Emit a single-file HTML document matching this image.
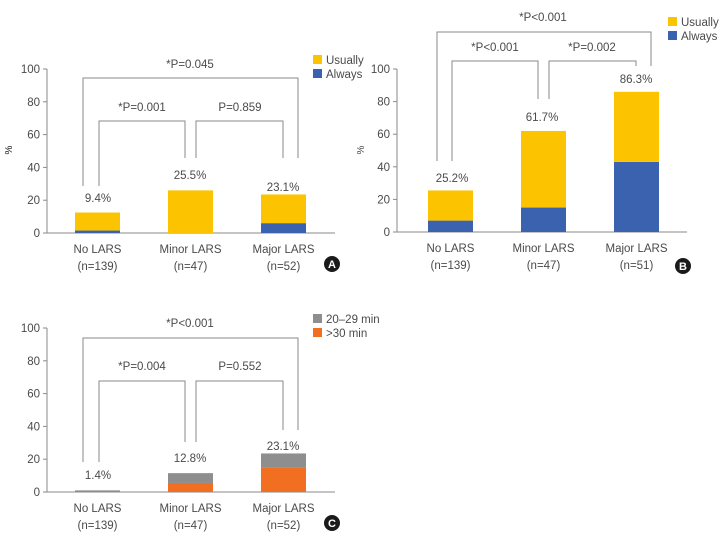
<!DOCTYPE html>
<html><head><meta charset="utf-8">
<style>
html,body{margin:0;padding:0;background:#fff;}
svg{display:block;font-family:"Liberation Sans",sans-serif;}
text{fill:#4a4a4a;font-size:11.5px;}
</style></head>
<body>
<svg id="chart" width="722" height="543" viewBox="0 0 722 543" xmlns="http://www.w3.org/2000/svg"></svg>
<script>
// Shared categories
const categories = ["No LARS", "Minor LARS", "Major LARS"];
// Panel A
const aNs = ["(n=139)", "(n=47)", "(n=52)"];
const aAlways = [1.5, 0, 6];
const aUsually = [11, 26, 17.5];
const aPct = ["9.4%", "25.5%", "23.1%"];
const aP = ["*P=0.045", "*P=0.001", "P=0.859"];
// Panel B
const bNs = ["(n=139)", "(n=47)", "(n=51)"];
const bAlways = [7, 15, 43];
const bUsually = [18.5, 47, 43];
const bPct = ["25.2%", "61.7%", "86.3%"];
const bP = ["*P<0.001", "*P<0.001", "*P=0.002"];
// Panel C
const cNs = ["(n=139)", "(n=47)", "(n=52)"];
const cOver30 = [0, 5.5, 15];
const c2029 = [1, 6, 8.5];
const cPct = ["1.4%", "12.8%", "23.1%"];
const cP = ["*P<0.001", "*P=0.004", "P=0.552"];
const yTicks = [0, 20, 40, 60, 80, 100];

const NS = "http://www.w3.org/2000/svg";
const svg = document.getElementById("chart");
function mk(tag, attrs, parent, txt) {
  const e = document.createElementNS(NS, tag);
  for (const k in attrs) e.setAttribute(k, attrs[k]);
  if (txt !== undefined) e.textContent = txt;
  (parent || svg).appendChild(e);
  return e;
}

function panel(cfg) {
  const g = mk("g", {});
  
  
  const y = v => cfg.y0 - (cfg.y0 - cfg.y100) * v / 100;
  const bx = i => cfg.x0 + cfg.bar0 + i * cfg.step;
  // axes
  const ax = mk("line", {x1: cfg.x0, x2: cfg.x0, y1: cfg.y100, y2: cfg.y0, stroke: "#8a8a8a", "stroke-width": 1}, g);
  
  
  const xa = mk("line", {x1: cfg.x0, x2: cfg.x1, y1: cfg.y0, y2: cfg.y0, stroke: "#8a8a8a", "stroke-width": 1}, g);
  
  
  yTicks.forEach(t => {
    const tl = mk("line", {x1: cfg.x0 - 4, x2: cfg.x0, y1: y(t), y2: y(t), stroke: "#8a8a8a"}, g);
    
    
    const tt = mk("text", {x: cfg.x0 - 7, y: y(t) + 4, "text-anchor": "end"}, g, t);
    
    
  });
  const yl = mk("text", {x: cfg.ylx, y: 150, "text-anchor": "middle", transform: `rotate(-90 ${cfg.ylx} 150)`, style: "font-size:10px"}, g, "%");
  
  
  categories.forEach((c, i) => {
    const x = bx(i);
    const b1 = mk("rect", {x: x, width: cfg.bw, y: y(cfg.s1[i]), height: y(0) - y(cfg.s1[i]), fill: cfg.c1}, g);
    
    
    const top = cfg.s1[i] + cfg.s2[i];
    const b2 = mk("rect", {x: x, width: cfg.bw, y: y(top), height: y(cfg.s1[i]) - y(top), fill: cfg.c2}, g);
    
    
    const cx = x + cfg.bw / 2;
    const l1 = mk("text", {x: cx, y: cfg.y0 + 20, "text-anchor": "middle"}, g, c);
    
    
    const l2 = mk("text", {x: cx, y: cfg.y0 + 37, "text-anchor": "middle"}, g, cfg.ns[i]);
    
    
    const pl = mk("text", {x: cfg.pctX[i], y: cfg.pctY[i], "text-anchor": "middle"}, g, cfg.pct[i]);
    
    
  });
  // brackets
  cfg.br.forEach((b, j) => {
    const p = mk("polyline", {points: `${b[0]},${b[3]} ${b[0]},${b[2]} ${b[1]},${b[2]} ${b[1]},${b[4]}`, fill: "none", stroke: "#8a8a8a", "stroke-width": 1}, g);
    
    
    const t = mk("text", {x: b[5], y: b[6], "text-anchor": "middle"}, g, cfg.p[j]);
    
    
  });
  // legend
  [[cfg.c2, cfg.n2], [cfg.c1, cfg.n1]].forEach((l, j) => {
    const r = mk("rect", {x: cfg.lx, y: cfg.ly + j * 14, width: 9, height: 9, fill: l[0]}, g);
    
    
    const t = mk("text", {x: cfg.lx + 13, y: cfg.ly + j * 14 + 9}, g, l[1]);
    
    
  });
  const c = mk("circle", {cx: cfg.badge[0], cy: cfg.badge[1], r: 8, fill: "#1a1a1a"}, g);
  
  
  const ct = mk("text", {x: cfg.badge[0], y: cfg.badge[1] + 4, "text-anchor": "middle", style: "fill:#fff;font-size:11px;font-weight:bold"}, g, cfg.letter);
  
  
}

const Y = "#fcc400", B = "#3b62ae", G = "#8e8e8e", O = "#f26f21";
panel({name: "panel-a", x0: 47, x1: 335, y0: 233, y100: 69, bar0: 28, step: 93, bw: 45, ylx: 12,
  s1: aAlways, s2: aUsually, c1: B, c2: Y, k1: "always", k2: "usually", n1: "Always", n2: "Usually",
  ns: aNs, pct: aPct, pctX: [98, 190, 283], pctY: [202, 179, 191], p: aP,
  br: [[83, 298, 78, 186, 158, 190, 68], [99, 185, 121, 186, 158, 142, 111], [196, 283, 121, 158, 158, 240, 111]],
  lx: 313, ly: 55, badge: [332, 264], letter: "A"});
panel({name: "panel-b", x0: 397, x1: 687, y0: 232, y100: 69, bar0: 31, step: 93, bw: 45, ylx: 364,
  s1: bAlways, s2: bUsually, c1: B, c2: Y, k1: "always", k2: "usually", n1: "Always", n2: "Usually",
  ns: bNs, pct: bPct, pctX: [452, 542, 636], pctY: [182, 121, 83], p: bP,
  br: [[437, 651, 32, 161, 66, 543, 21], [452, 538, 61, 161, 99, 495, 51], [549, 636, 61, 99, 66, 592, 51]],
  lx: 668, ly: 17, badge: [683, 266], letter: "B"});
panel({name: "panel-c", x0: 47, x1: 335, y0: 492, y100: 328, bar0: 28, step: 93, bw: 45, ylx: 12,
  s1: cOver30, s2: c2029, c1: O, c2: G, k1: "over30", k2: "20-29", n1: ">30 min", n2: "20\u201329 min",
  ns: cNs, pct: cPct, pctX: [98, 190, 283], pctY: [479, 462, 450], p: cP,
  br: [[83, 298, 338, 462, 430, 190, 327], [99, 185, 381, 462, 442, 142, 370], [196, 283, 381, 442, 430, 240, 370]],
  lx: 313, ly: 314, badge: [332, 523], letter: "C"});
</script>
</body></html>
